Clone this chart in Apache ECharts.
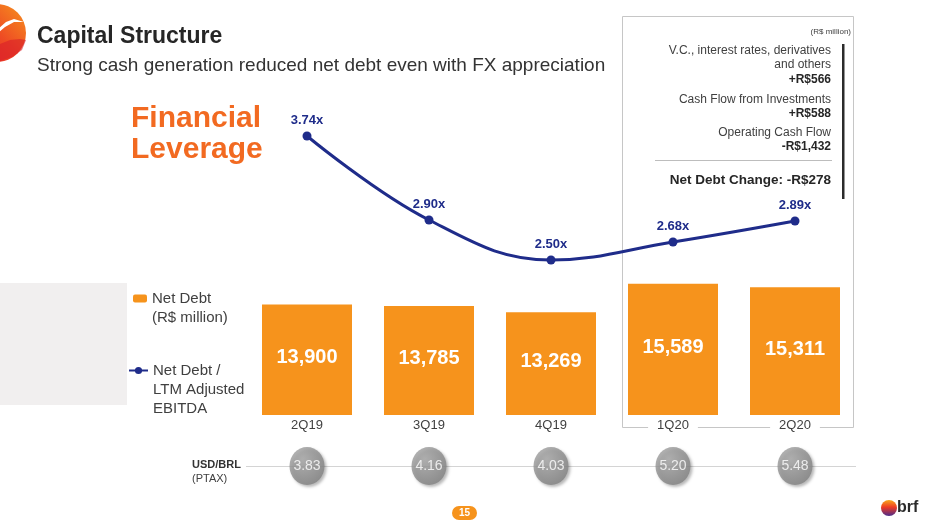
<!DOCTYPE html>
<html>
<head>
<meta charset="utf-8">
<script src="https://cdn.jsdelivr.net/npm/echarts@6/dist/echarts.min.js"></script>
<style>
html,body{margin:0;padding:0;background:#fff;}
#chart{width:933px;height:525px;}
</style>
</head>
<body>
<div id="chart"></div>
<script>
const categories = ['2Q19', '3Q19', '4Q19', '1Q20', '2Q20'];
const netDebt = [13900, 13785, 13269, 15589, 15311];
const leverage = [3.74, 2.90, 2.50, 2.68, 2.89];
const usdBrl = [3.83, 4.16, 4.03, 5.20, 5.48];
const fxRowLabel = ['USD/BRL'];

const FF = 'Arial, "Liberation Sans", sans-serif';
const chart = echarts.init(document.getElementById('chart'), null, {renderer: 'canvas'});

function rtext(x, y, text, size, bold, color) {
  return {
    type: 'text', x: x, y: y, z: 5,
    style: {
      text: text, fill: color || '#404040',
      font: (bold ? 'bold ' : '') + size + 'px ' + FF,
      textAlign: 'right', align: 'right',
      textVerticalAlign: 'middle', verticalAlign: 'middle'
    }
  };
}

const option = {
  backgroundColor: '#ffffff',
  animation: false,
  title: [
    {text: 'Capital Structure', left: 37, top: 25, padding: 0,
     textStyle: {fontFamily: FF, fontSize: 23, fontWeight: 'bold', color: '#262626'}},
    {text: 'Strong cash generation reduced net debt even with FX appreciation', left: 37, top: 56, padding: 0,
     textStyle: {fontFamily: FF, fontSize: 19, fontWeight: 'normal', color: '#333333'}},
    {text: 'Financial\nLeverage', left: 131, top: 103, padding: 0,
     textStyle: {fontFamily: FF, fontSize: 30, fontWeight: 'bold', color: '#F26A21', lineHeight: 31}}
  ],
  legend: [
    {
      data: ['Net Debt (R$ million)'], orient: 'vertical', left: 133, top: 270, padding: 0,
      itemWidth: 14, itemHeight: 8, selectedMode: false,
      formatter: function () { return '\nNet Debt\n(R$ million)'; },
      textStyle: {fontFamily: FF, fontSize: 15, color: '#404040', lineHeight: 19}
    },
    {
      data: ['Net Debt / LTM Adjusted EBITDA'], orient: 'vertical', left: 128, top: 323, padding: 0,
      itemWidth: 19, itemHeight: 9, selectedMode: false,
      formatter: function () { return '\n\nNet Debt /\nLTM Adjusted\nEBITDA'; },
      textStyle: {fontFamily: FF, fontSize: 15, color: '#404040', lineHeight: 19}
    }
  ],
  grid: [
    {left: 246, right: 77, top: 100, bottom: 110},
    {left: 246, right: 77, top: 448, height: 36}
  ],
  xAxis: [
    {
      type: 'category', gridIndex: 0, data: categories,
      axisLine: {show: false}, axisTick: {show: false},
      axisLabel: {fontFamily: FF, fontSize: 13, color: '#404040', margin: 3,
        backgroundColor: '#ffffff', padding: [1, 9, 1, 9]}
    },
    {
      type: 'category', gridIndex: 1, data: categories, show: false
    }
  ],
  yAxis: [
    {type: 'value', gridIndex: 0, min: 4900, max: 30572, show: false},
    {type: 'value', gridIndex: 0, min: 0.95, max: 4.10, show: false},
    {
      type: 'category', gridIndex: 1, data: fxRowLabel,
      axisLine: {show: false}, axisTick: {show: false},
      axisLabel: {
        align: 'left', margin: 54, padding: [12, 0, 0, 0],
        formatter: function () { return '{b|USD/BRL}\n{n|(PTAX)}'; },
        rich: {
          b: {fontFamily: FF, fontSize: 11, fontWeight: 'bold', color: '#333333', lineHeight: 14},
          n: {fontFamily: FF, fontSize: 11, color: '#404040', lineHeight: 14}
        }
      }
    }
  ],
  series: [
    {
      name: 'Net Debt (R$ million)', type: 'bar', xAxisIndex: 0, yAxisIndex: 0,
      data: netDebt, barWidth: 90, z: 2,
      itemStyle: {color: '#F6931C'},
      label: {show: true, position: 'inside', offset: [0, -2], fontFamily: FF, fontSize: 20,
        fontWeight: 'bold', color: '#ffffff',
        formatter: function (p) { return p.value.toLocaleString('en-US'); }}
    },
    {
      name: 'Net Debt / LTM Adjusted EBITDA', type: 'line', xAxisIndex: 0, yAxisIndex: 1,
      data: leverage, smooth: 0.4, z: 4,
      symbol: 'circle', symbolSize: 9,
      lineStyle: {color: '#1F2C8A', width: 3},
      itemStyle: {color: '#1F2C8A'},
      label: {show: true, position: 'top', distance: 5, fontFamily: FF, fontSize: 13,
        fontWeight: 'bold', color: '#1F2C8A',
        formatter: function (p) { return p.value.toFixed(2) + 'x'; }}
    },
    {
      name: 'fxline', type: 'line', xAxisIndex: 1, yAxisIndex: 2, z: 1,
      data: usdBrl.map(function (v, i) { return [i, 0]; }),
      symbol: 'none', lineStyle: {opacity: 0}, silent: true,
      markLine: {silent: true, symbol: 'none', label: {show: false},
        lineStyle: {color: '#d4d4d4', width: 1, type: 'solid'},
        data: [{yAxis: 0}]}
    },
    {
      name: 'USD/BRL', type: 'scatter', xAxisIndex: 1, yAxisIndex: 2, z: 5,
      data: usdBrl.map(function (v, i) { return [i, 0, v]; }),
      symbol: 'circle', symbolSize: [35, 38],
      itemStyle: {
        color: new echarts.graphic.RadialGradient(0.38, 0.32, 0.75, [
          {offset: 0, color: '#ababab'}, {offset: 1, color: '#7f7f7f'}
        ]),
        shadowBlur: 3, shadowOffsetX: 2, shadowOffsetY: 2, shadowColor: 'rgba(0,0,0,0.35)'
      },
      label: {show: true, position: 'inside', fontFamily: FF, fontSize: 14, color: '#ffffff',
        formatter: function (p) { return p.data[2].toFixed(2); }}
    }
  ],
  graphic: [
    {type: 'rect', shape: {x: 0, y: 283, width: 127, height: 122}, style: {fill: '#F1EFEF'}, z: -5},
    {type: 'rect', shape: {x: 622.5, y: 16.5, width: 231, height: 411}, style: {fill: 'none', stroke: '#c6c6c6', lineWidth: 1}, z: -5},
    {type: 'rect', shape: {x: 842, y: 44, width: 2.5, height: 155}, style: {fill: '#2b2b2b'}, z: 5},
    {type: 'line', shape: {x1: 655, y1: 160.5, x2: 832, y2: 160.5}, style: {stroke: '#bdbdbd', lineWidth: 1}, z: 5},
    rtext(851, 32, '(R$ million)', 8, false, '#404040'),
    rtext(831, 51, 'V.C., interest rates, derivatives', 12, false),
    rtext(831, 65, 'and others', 12, false),
    rtext(831, 80, '+R$566', 12, true, '#262626'),
    rtext(831, 100, 'Cash Flow from Investments', 12, false),
    rtext(831, 114, '+R$588', 12, true, '#262626'),
    rtext(831, 133, 'Operating Cash Flow', 12, false),
    rtext(831, 147, '-R$1,432', 12, true, '#262626'),
    rtext(831, 180, 'Net Debt Change: -R$278', 13.5, true, '#262626'),
    // top-left logo
    {type: 'circle', shape: {cx: -3, cy: 33, r: 29}, z: 5,
     style: {fill: new echarts.graphic.LinearGradient(0, 1, 1, 0, [
       {offset: 0, color: '#E4202A'}, {offset: 0.5, color: '#EE4B24'}, {offset: 1, color: '#F7941D'}])}},
    {type: 'polygon', z: 6,
     shape: {points: [[-2, 29], [6, 22], [14, 19], [24, 22], [14, 22], [5, 27], [-2, 33]]}, style: {fill: '#ffffff'}},
    {type: 'polygon', z: 6,
     shape: {points: [[0, 44], [10, 40], [20, 39], [26, 40], [22, 50], [12, 57], [0, 61]]}, style: {fill: '#D91E2A', opacity: 0.6}},
    // page number
    {type: 'rect', shape: {x: 452, y: 506, width: 25, height: 14, r: 7}, style: {fill: '#F6931C'}, z: 5},
    {type: 'text', x: 464.5, y: 513, z: 6,
     style: {text: '15', fill: '#ffffff', font: 'bold 10px ' + FF, textAlign: 'center', align: 'center',
       textVerticalAlign: 'middle', verticalAlign: 'middle'}},
    // bottom-right brf logo
    {type: 'circle', shape: {cx: 889, cy: 508, r: 8}, z: 5,
     style: {fill: new echarts.graphic.LinearGradient(0, 0, 0, 1, [
       {offset: 0, color: '#F7A81D'}, {offset: 0.45, color: '#EE3B24'}, {offset: 1, color: '#4B2C8C'}])}},
    {type: 'text', x: 897, y: 508, z: 6,
     style: {text: 'brf', fill: '#2a2a2a', font: 'bold 16px ' + FF, textAlign: 'left', align: 'left',
       textVerticalAlign: 'middle', verticalAlign: 'middle'}}
  ]
};
chart.setOption(option);
</script>
</body>
</html>
